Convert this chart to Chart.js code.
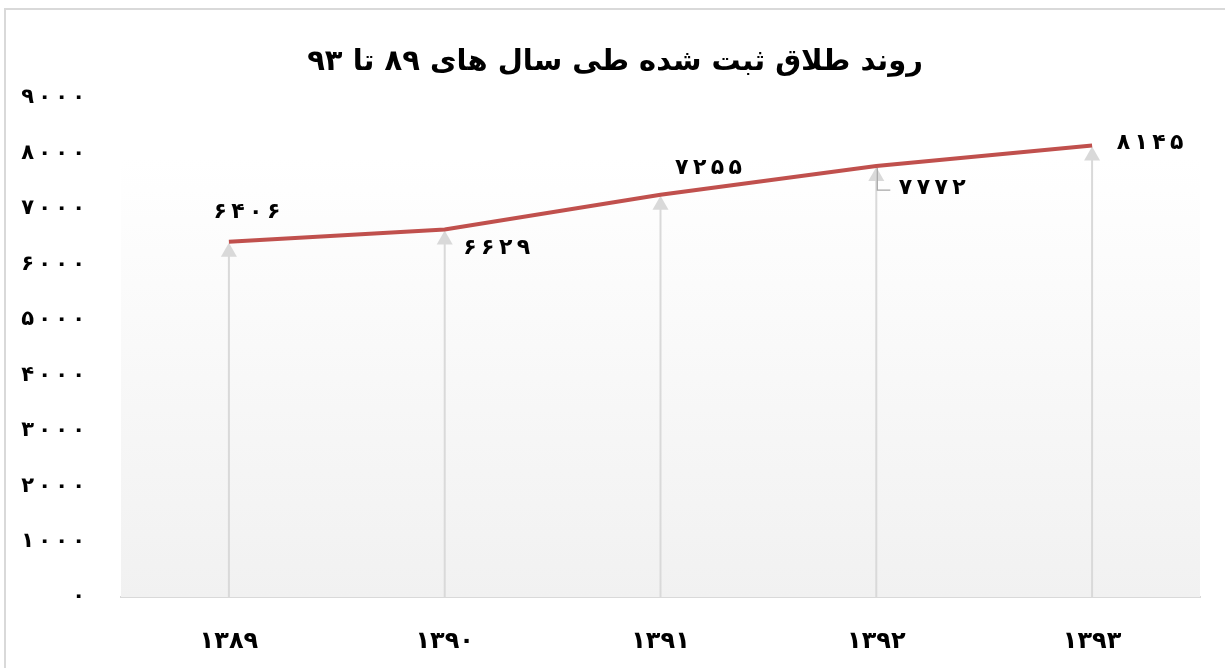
<!DOCTYPE html>
<html>
<head>
<meta charset="utf-8">
<script src="https://cdn.jsdelivr.net/npm/chart.js@4.4.1/dist/chart.umd.min.js"></script>
<style>
  html, body { margin: 0; padding: 0; background: #fff; overflow: hidden; }
  #wrap { position: relative; width: 1225px; height: 668px; overflow: hidden; }
  #frame { position: absolute; left: 4px; top: 8px; width: 1300px; height: 700px; border-left: 2px solid #d9d9d9; border-top: 2px solid #d9d9d9; pointer-events: none; }
  #title { position: absolute; left: 0; top: 40px; width: 1230px; text-align: center; direction: rtl;
           font: bold 29px 'DejaVu Sans', sans-serif; line-height: 40px; color: #000; }
  canvas { position: absolute; left: 0; top: 0; }
</style>
</head>
<body>
<div id="wrap">
  <canvas id="c" width="1225" height="668"></canvas>
  <div id="title"></div>
  <div id="frame"></div>
</div>
<script>
const titleText = 'روند طلاق ثبت شده طی سال های ۸۹ تا ۹۳';
const categories = ['۱۳۸۹', '۱۳۹۰', '۱۳۹۱', '۱۳۹۲', '۱۳۹۳'];
const divorces = [6406, 6629, 7255, 7772, 8145];
const valueLabels = ['۶۴۰۶', '۶۶۲۹', '۷۲۵۵', '۷۷۷۲', '۸۱۴۵'];
const yTickLabels = ['۰', '۱۰۰۰', '۲۰۰۰', '۳۰۰۰', '۴۰۰۰', '۵۰۰۰', '۶۰۰۰', '۷۰۰۰', '۸۰۰۰', '۹۰۰۰'];

document.getElementById('title').textContent = titleText;

// spaced digits, kept in left-to-right order
function spaced(s) { return '\u202D' + s.split('').join('\u2009') + '\u202C'; }

const FONT = "'DejaVu Sans', sans-serif";

const bgPlugin = {
  id: 'bgPlugin',
  beforeDatasetsDraw(chart) {
    const { ctx, chartArea: a } = chart;
    const top = a.top + (a.bottom - a.top) * 0.12;
    const g = ctx.createLinearGradient(0, top, 0, a.bottom);
    g.addColorStop(0, '#ffffff');
    g.addColorStop(1, '#f1f1f1');
    ctx.save();
    ctx.fillStyle = g;
    ctx.fillRect(a.left, top, a.right - a.left, a.bottom - top);
    ctx.restore();
    // drop arrows
    const meta = chart.getDatasetMeta(0);
    ctx.save();
    ctx.strokeStyle = '#d9d9d9';
    ctx.fillStyle = '#d9d9d9';
    ctx.lineWidth = 2;
    meta.data.forEach(p => {
      ctx.beginPath();
      ctx.moveTo(p.x, a.bottom);
      ctx.lineTo(p.x, p.y + 12);
      ctx.stroke();
      ctx.beginPath();
      ctx.moveTo(p.x, p.y + 1);
      ctx.lineTo(p.x - 8, p.y + 15);
      ctx.lineTo(p.x + 8, p.y + 15);
      ctx.closePath();
      ctx.fill();
    });
    ctx.restore();
  },
  afterDatasetsDraw(chart) {
    const { ctx } = chart;
    const meta = chart.getDatasetMeta(0);
    const offs = [[18, -30], [52, 19], [48, -26], [56, 22], [58, -2]];
    ctx.save();
    // leader line for 4th label
    const p3 = meta.data[3];
    ctx.strokeStyle = '#a6a6a6';
    ctx.lineWidth = 1.2;
    ctx.beginPath();
    ctx.moveTo(p3.x + 1, p3.y + 2);
    ctx.lineTo(p3.x + 1, p3.y + 24);
    ctx.lineTo(p3.x + 14, p3.y + 24);
    ctx.stroke();
    ctx.fillStyle = '#000';
    ctx.font = "bold 22px " + FONT;
    ctx.textAlign = 'center';
    ctx.textBaseline = 'middle';
    meta.data.forEach((p, i) => {
      ctx.fillText(spaced(valueLabels[i]), p.x + offs[i][0], p.y + offs[i][1]);
    });
    ctx.restore();
  }
};

new Chart(document.getElementById('c'), {
  type: 'line',
  data: {
    labels: categories,
    datasets: [{
      data: divorces,
      borderColor: '#c0504d',
      borderWidth: 4,
      pointRadius: 0,
      tension: 0,
      fill: false
    }]
  },
  options: {
    responsive: false,
    animation: false,
    devicePixelRatio: 1,
    layout: { padding: { left: 0, right: 25, top: 98, bottom: 0 } },
    plugins: {
      legend: { display: false },
      tooltip: { enabled: false },
      title: { display: false }
    },
    scales: {
      x: {
        offset: true,
        grid: { display: false, drawTicks: false },
        border: { display: true, color: '#d9d9d9', width: 2 },
        ticks: { color: '#000', font: { family: FONT, size: 24, weight: 'bold' }, padding: 30 },
        afterFit(s) { s.height = 71; }
      },
      y: {
        min: 0, max: 9000,
        grid: { display: false, drawTicks: false },
        border: { display: false },
        ticks: {
          stepSize: 1000,
          color: '#000',
          font: { family: FONT, size: 21, weight: 'bold' },
          padding: 36,
          callback: (v) => spaced(yTickLabels[Math.round(v / 1000)])
        },
        afterFit(s) { s.width = 121; }
      }
    }
  },
  plugins: [bgPlugin]
});
</script>
</body>
</html>
